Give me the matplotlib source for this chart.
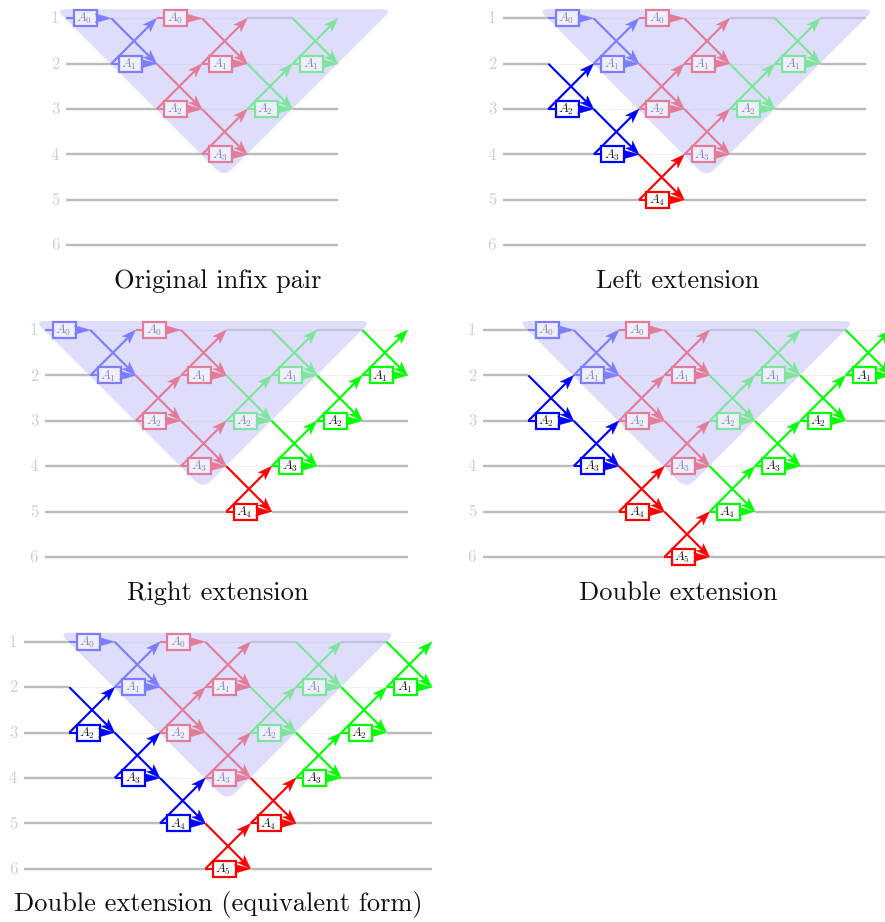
import matplotlib
matplotlib.use('Agg')
import matplotlib.pyplot as plt
from matplotlib.patches import PathPatch, Polygon, Rectangle
from matplotlib.path import Path

plt.rcParams['font.family'] = ['cmr10', 'DejaVu Serif']
plt.rcParams['mathtext.fontset'] = 'cm'
plt.rcParams['axes.unicode_minus'] = False

STEP = 45.33
ROW_STEP = 45.4
WIRES = [1, 2, 3, 4, 5, 6]

BLUE, RED, GREEN = '#0000ff', '#ff0000', '#00ff00'
FADED = {'blue': '#7d7dff', 'pink': '#e27c98', 'green': '#80e59c'}
SHADE = '#dedefc'

# gates are (column, wire, index of A, colour)
ORIGINAL = [
    (0, 1, 0, 'blue'), (1, 2, 1, 'blue'),
    (2, 1, 0, 'pink'), (3, 2, 1, 'pink'), (2, 3, 2, 'pink'), (3, 4, 3, 'pink'),
    (5, 2, 1, 'green'), (4, 3, 2, 'green'),
]
LEFT_EXT = [(1, 3, 2, BLUE), (2, 4, 3, BLUE), (3, 5, 4, RED)]
RIGHT_EXT = [(4, 5, 4, RED), (5, 4, 3, GREEN), (6, 3, 2, GREEN), (7, 2, 1, GREEN)]
DOUBLE_EXT = [(1, 3, 2, BLUE), (2, 4, 3, BLUE), (3, 5, 4, RED), (4, 6, 5, RED),
              (5, 5, 4, GREEN), (6, 4, 3, GREEN), (7, 3, 2, GREEN), (8, 2, 1, GREEN)]
DOUBLE_EQ = [(1, 3, 2, BLUE), (2, 4, 3, BLUE), (3, 5, 4, BLUE), (4, 6, 5, RED),
             (5, 5, 4, RED), (6, 4, 3, GREEN), (7, 3, 2, GREEN), (8, 2, 1, GREEN)]

TITLES = ['Original infix pair', 'Left extension', 'Right extension',
          'Double extension', 'Double extension (equivalent form)']
PANEL_X = [66, 503, 45, 483, 24]
PANEL_Y = [18.3, 18.3, 330, 330, 641.8]
PANEL_SHIFT = [0, 1, 0, 1, 1]
PANEL_COLS = [6, 8, 8, 9, 9]
PANEL_EXT = [[], LEFT_EXT, RIGHT_EXT, DOUBLE_EXT, DOUBLE_EQ]
TITLE_X = [218, 678, 218, 678, 218]


def arrowHead(ax, tip, direction, length, half, notch, color, z):
    dx, dy = direction
    nx, ny = -dy, dx
    tx, ty = tip
    back = (tx - dx * length, ty - dy * length)
    pts = [tip,
           (back[0] + nx * half, back[1] + ny * half),
           (back[0] + dx * notch, back[1] + dy * notch),
           (back[0] - nx * half, back[1] - ny * half)]
    ax.add_patch(Polygon(pts, closed=True, fc=color, ec=color, lw=0.3, zorder=z))


def drawShade(ax, x0, y0):
    # triangle with cut corners, sides at 45 degrees
    left, right, top = x0 - 10, x0 + 326, y0 - 9
    apex = (x0 + 158, top + 168)
    d, a = 9.5, 11.5
    s = 0.7071
    verts = [(left + d, top), (right - d, top), (right, top),
             (right - d * s, top + d * s), (apex[0] + a * s, apex[1] - a * s), apex,
             (apex[0] - a * s, apex[1] - a * s), (left + d * s, top + d * s), (left, top),
             (left + d, top), (left + d, top)]
    codes = [Path.MOVETO, Path.LINETO, Path.CURVE3, Path.CURVE3, Path.LINETO, Path.CURVE3,
             Path.CURVE3, Path.LINETO, Path.CURVE3, Path.CURVE3, Path.CLOSEPOLY]
    ax.add_patch(PathPatch(Path(verts, codes), fc=SHADE, ec='none', zorder=1))


def drawGate(ax, x0, y0, gate, faded, z):
    col, wire, idx, colorName = gate
    color = FADED[colorName] if faded else colorName
    xa = x0 + col * STEP
    xb = xa + STEP
    y = y0 + (wire - 1) * ROW_STEP
    lw = 1.55
    if idx != 0:
        s = 0.7071
        ax.plot([xa, xb - 3], [y, y - ROW_STEP + 3], color=color, lw=lw, zorder=z, solid_capstyle='butt')
        ax.plot([xa, xb - 3], [y - ROW_STEP, y - 3], color=color, lw=lw, zorder=z, solid_capstyle='butt')
        arrowHead(ax, (xb, y - ROW_STEP), (s, -s), 14, 5, 3.5, color, z)
        arrowHead(ax, (xb, y), (s, s), 14, 5, 3.5, color, z)
    ax.plot([xa, xa + 10], [y, y], color=color, lw=lw, zorder=z, solid_capstyle='butt')
    bx = xa + 7.5
    ax.add_patch(Rectangle((bx, y - 8), 23, 16, fc='#eeeefd' if faded else 'white', ec=color, lw=1.6, zorder=z + 0.1))
    ax.text(bx + 10.5, y + 0.5, f'$A_{idx}$', ha='center', va='center', fontsize=9.5,
            color='#8c8cac' if faded else '#222222', zorder=z + 0.2)
    arrowHead(ax, (xb, y), (1, 0), 16, 4.5, 2, color, z + 0.3)


def main() -> None:
    fig = plt.figure(figsize=(8.85, 9.22), dpi=100)
    ax = fig.add_axes([0, 0, 1, 1])
    ax.set_xlim(0, 885)
    ax.set_ylim(922, 0)
    ax.axis('off')

    for i, title in enumerate(TITLES):
        x0, y0 = PANEL_X[i], PANEL_Y[i]
        shift = PANEL_SHIFT[i]
        cols = PANEL_COLS[i]
        x1 = x0 + cols * STEP
        original = [(c + shift, w, k, n) for c, w, k, n in ORIGINAL]
        gates = original + PANEL_EXT[i]

        drawShade(ax, x0 + shift * STEP, y0)

        used = set()
        for c, w, k, n in gates:
            used.add((c, w))
            if k != 0:
                used.add((c, w - 1))
        for w in WIRES:
            y = y0 + (w - 1) * ROW_STEP
            ax.text(x0 - 11, y + 0.5, str(w), ha='center', va='center', fontsize=12, color='#cfcfcf')
            if w <= 4:
                ax.plot([x0, x1], [y, y], color='#808080', alpha=0.1, lw=0.8, zorder=2)
            for c in range(cols):
                if (c, w) not in used:
                    xa = x0 + c * STEP
                    inShade = w == 1 and c >= shift
                    ax.plot([xa, xa + STEP], [y, y], color='#c2c2da' if inShade else '#bbbbbb',
                            lw=1.7, zorder=3, solid_capstyle='butt')

        z = 4
        for g in original:
            drawGate(ax, x0, y0, g, True, z)
            z += 1
        for g in PANEL_EXT[i]:
            drawGate(ax, x0, y0, g, False, z)
            z += 1

        ax.text(TITLE_X[i], y0 + 263, title, ha='center', va='center', fontsize=19, color='#111111')

    fig.savefig('out.png', dpi=100)


if __name__ == '__main__':
    main()
